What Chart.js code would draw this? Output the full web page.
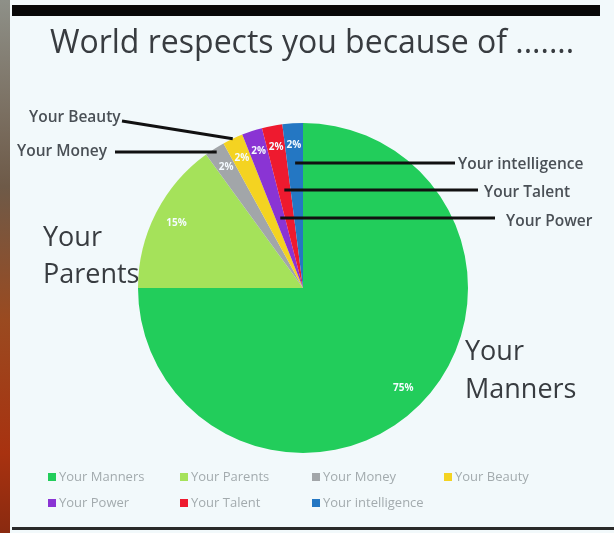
<!DOCTYPE html>
<html>
<head>
<meta charset="utf-8">
<script src="https://cdn.jsdelivr.net/npm/chart.js@4.4.0/dist/chart.umd.min.js"></script>
<style>
  body { margin: 0; background: #f2f9fb; }
  #wrap { position: relative; width: 614px; height: 533px; overflow: hidden; background: #f2f9fb; }
  #topbar { position: absolute; left: 12px; top: 5px; width: 588px; height: 11px; background: #080808; }
  #bottombar { position: absolute; left: 12px; top: 527px; width: 602px; height: 3px; background: #2a2a2a; }
  #edge { position: absolute; left: 0; top: 0; width: 10px; height: 533px;
    background: linear-gradient(#8e9088, #6e5a48 35%, #9a4a20 60%, #a83210 85%, #8a2a10); }
  canvas { position: absolute; left: 0; top: 0; }
</style>
</head>
<body>
<div id="wrap">
  <canvas id="chart" width="614" height="533"></canvas>
  <div id="topbar"></div>
  <div id="bottombar"></div>
  <div id="edge"></div>
</div>
<script>
const chartTitle = 'World respects you because of .......';
const categories = ['Your Manners', 'Your Parents', 'Your Money', 'Your Beauty', 'Your Power', 'Your Talent', 'Your intelligence'];
const shares = [75, 15, 2, 2, 2, 2, 2];
const sliceColors = ['#22cd5b', '#a5e25a', '#a2a6a9', '#f4d321', '#8a34d4', '#ee1a2f', '#2477c3'];

const textColor = '#383c40';

// callout lines pointing into the thin slices
const callouts = [
  { i: 3, text: 'Your Beauty', tx: 29, ty: 118, sx: 122, sy: 121, depth: 1.0 },
  { i: 2, text: 'Your Money', tx: 17, ty: 152, sx: 115, sy: 152, atY: true },
  { i: 6, text: 'Your intelligence', tx: 458, ty: 165, sx: 455, sy: 163, atY: true },
  { i: 5, text: 'Your Talent', tx: 484, ty: 193, sx: 478, sy: 190, atY: true },
  { i: 4, text: 'Your Power', tx: 506, ty: 222, sx: 495, sy: 218, atY: true }
];

const labelsPlugin = {
  id: 'labels',
  afterDatasetsDraw(chart) {
    const ctx = chart.ctx;
    const arcs = chart.getDatasetMeta(0).data;
    ctx.save();
    ctx.textBaseline = 'middle';

    // title
    ctx.font = '32px "Open Sans", sans-serif';
    ctx.fillStyle = textColor;
    ctx.textAlign = 'center';
    ctx.fillText(chartTitle, 312, 44);

    // percentages inside the slices
    ctx.fillStyle = '#f4fbff';
    ctx.font = 'bold 10px "Open Sans", sans-serif';
    arcs.forEach((arc, i) => {
      const mid = (arc.startAngle + arc.endAngle) / 2;
      const r = arc.outerRadius * (shares[i] > 10 ? 0.86 : 0.87);
      ctx.fillText(shares[i] + '%', arc.x + Math.cos(mid) * r, arc.y + Math.sin(mid) * r);
    });

    // callouts
    ctx.strokeStyle = '#111';
    ctx.lineWidth = 3;
    ctx.font = '600 15.5px "Open Sans", sans-serif';
    ctx.fillStyle = '#4a5056';
    ctx.textAlign = 'left';
    callouts.forEach(c => {
      const arc = arcs[c.i];
      const mid = (arc.startAngle + arc.endAngle) / 2;
      let ex, ey;
      if (c.atY) {
        const d = (c.sy - arc.y) / Math.sin(mid);
        ex = arc.x + Math.cos(mid) * d;
        ey = c.sy;
      } else {
        ex = arc.x + Math.cos(mid) * arc.outerRadius * c.depth;
        ey = arc.y + Math.sin(mid) * arc.outerRadius * c.depth;
      }
      ctx.beginPath();
      ctx.moveTo(c.sx, c.sy);
      ctx.lineTo(ex, ey);
      ctx.stroke();
      ctx.fillText(c.text, c.tx, c.ty);
    });

    // big side labels
    ctx.font = '27px "Open Sans", sans-serif';
    ctx.fillStyle = textColor;
    ctx.fillText('Your', 43, 238);
    ctx.fillText('Parents', 43, 275);
    ctx.fillText('Your', 465, 352);
    ctx.fillText('Manners', 465, 390);

    // legend, two rows in fixed columns
    ctx.font = '13px "Open Sans", sans-serif';
    categories.forEach((name, i) => {
      const x = 48 + (i % 4) * 132;
      const y = 477 + Math.floor(i / 4) * 26;
      ctx.fillStyle = sliceColors[i];
      ctx.fillRect(x, y - 4, 8, 8);
      ctx.fillStyle = '#a3abae';
      ctx.fillText(name, x + 11, y);
    });
    ctx.restore();
  }
};

new Chart(document.getElementById('chart'), {
  type: 'pie',
  data: {
    labels: categories,
    datasets: [{
      data: shares,
      backgroundColor: sliceColors,
      borderWidth: 0
    }]
  },
  options: {
    responsive: false,
    animation: false,
    layout: { padding: { left: 138, right: 146, top: 123, bottom: 80 } },
    plugins: {
      legend: { display: false },
      tooltip: { enabled: false },
      title: { display: false }
    }
  },
  plugins: [labelsPlugin]
});
</script>
</body>
</html>
